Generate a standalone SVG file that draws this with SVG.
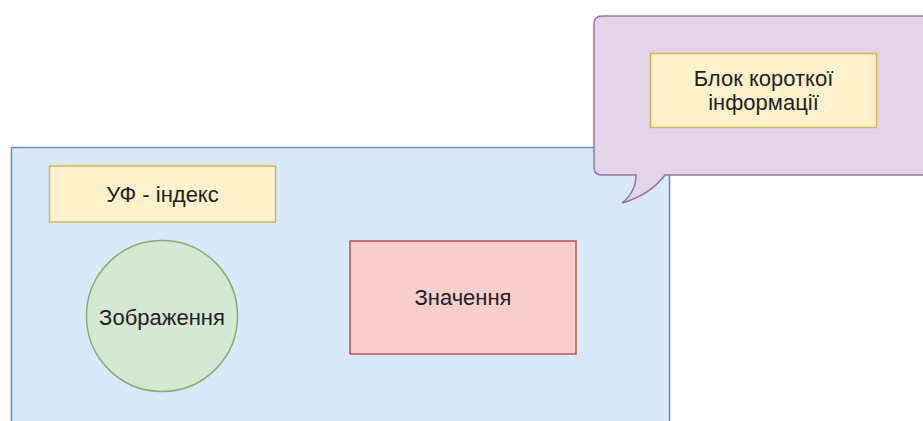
<svg xmlns="http://www.w3.org/2000/svg" width="923" height="421" viewBox="0 0 923 421">
<style>
text{font-family:"Liberation Sans",Arial,sans-serif;font-size:22px;fill:#222;text-anchor:middle}
.yel{fill:#fff2cc;stroke:#d6b656;stroke-width:1.5}
</style>
<rect width="923" height="421" fill="#ffffff"/>
<g id="container">
<rect x="11.5" y="147.5" width="658" height="290" fill="#dae8fc" stroke="#6c8ebf" stroke-width="1.5"/>
</g>
<g id="uf-index">
<rect class="yel" x="49.5" y="166" width="226" height="56"/>
<text x="162.5" y="201.5">УФ - індекс</text>
</g>
<g id="image">
<circle cx="162" cy="316" r="75.5" fill="#d5e8d4" stroke="#82b366" stroke-width="1.5"/>
<text x="162" y="324.5">Зображення</text>
</g>
<g id="value">
<rect x="350" y="241" width="226" height="113" fill="#f8cecc" stroke="#b85450" stroke-width="1.5"/>
<text x="463" y="305">Значення</text>
</g>
<g id="callout">
<path d="M 602 16 L 940 16 L 940 175 L 665 175 Q 650 195 622 203 Q 636 192 636 175 L 602 175 Q 594 175 594 167 L 594 24 Q 594 16 602 16 Z" fill="#e1d5e7" stroke="#9673a6" stroke-width="1.5"/>
</g>
<g id="info-block">
<rect class="yel" x="650.5" y="53.5" width="226" height="74"/>
<text x="763.5" y="85.5">Блок короткої</text>
<text x="763.5" y="109.5">інформації</text>
</g>
<g id="connectors"></g>
</svg>
